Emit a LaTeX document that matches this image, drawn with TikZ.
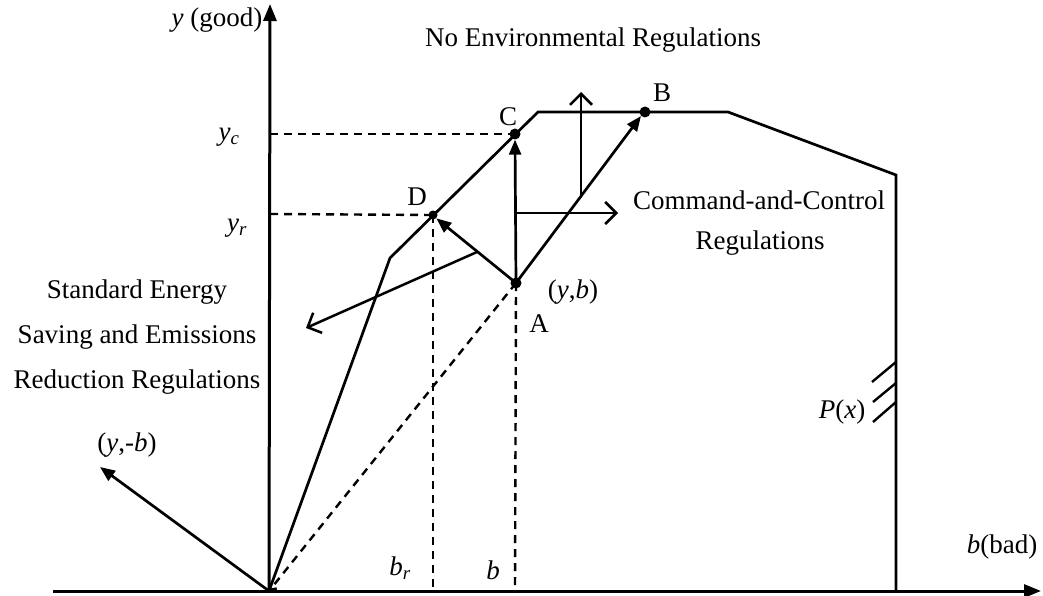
\documentclass[tikz,border=0pt]{standalone}
\usepackage{fontspec}
\setmainfont{Liberation Serif}
\usetikzlibrary{arrows.meta}
\begin{document}
\begin{tikzpicture}[x=1pt,y=-1pt,
  lbl/.style={font=\fontsize{27}{32}\selectfont, inner sep=0pt},
  axis/.style={line width=3pt},
  curve/.style={line width=2.7pt},
  dsh/.style={line width=2.4pt, dash pattern=on 8pt off 6pt},
  fillarrow/.style={line width=2.7pt, -{Triangle[length=15pt,width=12pt]}},
  openarrow/.style={line width=2.5pt, -{Straight Barb[length=11pt,width=22pt]}},
  dot/.style={circle, fill=black, inner sep=0pt, minimum size=11pt}]
\useasboundingbox (0,0) rectangle (1043,596);
% key points
\coordinate (O) at (269,591);
\coordinate (XL) at (53,591);
\coordinate (XR) at (1041,591);
\coordinate (YT) at (270,4);
\coordinate (F1) at (390,258);
\coordinate (F2) at (538,112);
\coordinate (F3) at (728,112);
\coordinate (F4) at (896,175);
\coordinate (F5) at (896,591);
\coordinate (YC) at (270,134);
\coordinate (YR) at (270,214);
\coordinate (BR) at (433,591);
\coordinate (BB) at (515,591);
\coordinate (H0) at (515,213);
\coordinate (H1) at (618,213);
\coordinate (V0) at (581,196);
\coordinate (V1) at (581,92);
\coordinate (S0) at (477,252);
\coordinate (S1) at (306,328);
\coordinate (YB) at (100,467);
\coordinate (P1a) at (872,382) ; \coordinate (P1b) at (896,362);
\coordinate (P2a) at (873,402) ; \coordinate (P2b) at (896,383);
\coordinate (P3a) at (873,422) ; \coordinate (P3b) at (896,402);
\node[dot] (A) at (516,283) {};
\node[dot] (B) at (645,112) {};
\node[dot] (C) at (515,134) {};
\node[dot, minimum size=9pt] (D) at (433,215) {};
% axes
\draw[axis, -{Triangle[length=17pt,width=13pt]}] (XL) -- (XR);
\draw[axis, -{Triangle[length=17pt,width=13pt]}] (O) -- (YT);
% frontier
\draw[curve, line join=miter] (O) -- (F1) -- (F2) -- (F3) -- (F4) -- (F5);
% dashed guides
\draw[dsh] (YC) -- (C.center);
\draw[dsh] (YR) -- (D.center);
\draw[dsh] (D.center) -- (BR);
\draw[dsh] (A.center) -- (BB);
\draw[dsh, -{Straight Barb[length=5pt,width=9pt]}] (A.center) -- (O);
% direction arrows
\draw[fillarrow] (A.center) -- (C.south);
\draw[fillarrow] (A.center) -- (B.south west);
\draw[fillarrow] (A.center) -- (D.south east);
\draw[openarrow] (H0) -- (H1);
\draw[openarrow] (V0) -- (V1);
\draw[openarrow] (S0) -- (S1);
\draw[fillarrow] (O) -- (YB);
% P(x) hatches
\draw[line width=2.4pt] (P1a) -- (P1b) (P2a) -- (P2b) (P3a) -- (P3b);
% labels
\node[lbl] (ylab) at (217,20) {\textit{y} (good)};
\node[lbl] (noenv) at (593,40) {No Environmental Regulations};
\node[lbl] (Clab) at (508,117) {C};
\node[lbl] (Blab) at (662,93) {B};
\node[lbl] (Dlab) at (417,197) {D};
\node[lbl] (Alab) at (539,324) {A};
\node[lbl] (yblab) at (573,292) {(\textit{y},\textit{b})};
\node[lbl] (yclab) at (229,137) {\textit{y}\textsubscript{\textit{c}}};
\node[lbl] (yrlab) at (237,228) {\textit{y}\textsubscript{\textit{r}}};
\node[lbl] (cc1) at (759,200) {Command-and-Control};
\node[lbl] (cc2) at (760,243) {Regulations};
\node[lbl] (st1) at (137,292) {Standard Energy};
\node[lbl] (st2) at (137,337) {Saving and Emissions};
\node[lbl] (st3) at (137,382) {Reduction Regulations};
\node[lbl] (ymb) at (127,445) {(\textit{y},-\textit{b})};
\node[lbl] (Px) at (842,412) {\textit{P}(\textit{x})};
\node[lbl] (brlab) at (400,568) {\textit{b}\textsubscript{\textit{r}}};
\node[lbl] (blab) at (493,570) {\textit{b}};
\node[lbl] (bbad) at (1002,547) {\textit{b}(bad)};
\end{tikzpicture}
\end{document}
